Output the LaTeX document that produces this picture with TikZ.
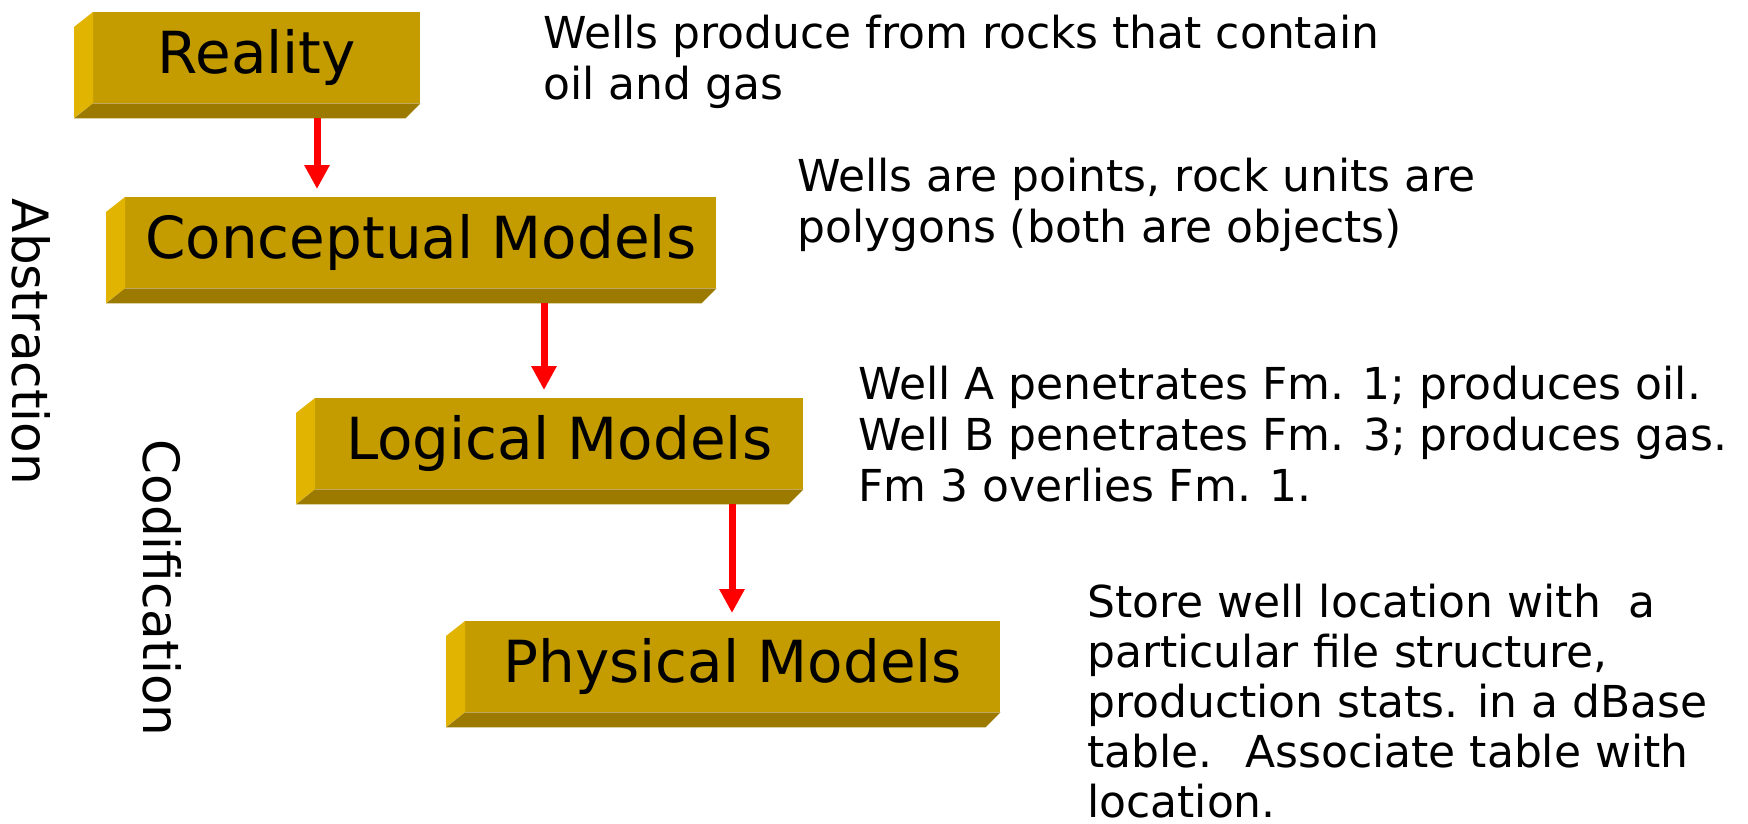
\documentclass[tikz,border=0pt]{standalone}
\usepackage{fontspec}
\setmainfont{DejaVu Sans}
\usepackage{tikz}
\usetikzlibrary{positioning, arrows.meta, calc}
\usepackage{xcolor}
\definecolor{boxface}{RGB}{196,156,0}
\definecolor{boxleft}{RGB}{224,180,0}
\definecolor{boxbottom}{RGB}{156,122,0}
\tikzset{
    layerbox/.style={
        rectangle,
        fill=boxface,
        inner sep=0pt,
        minimum height=91pt,
        font=\fontsize{58}{64}\selectfont
    },
    flowarrow/.style={
        red,
        line width=7pt,
        -{Triangle[width=24pt,length=24pt]}
    },
    note/.style={
        anchor=north west,
        align=left,
        inner sep=0pt,
        font=\fontsize{44}{51}\selectfont
    },
    sidelabel/.style={
        rotate=-90,
        inner sep=0pt,
        font=\fontsize{50}{56}\selectfont
    }
}

\begin{document}
\begin{tikzpicture}[x=1pt, y=-1pt]

      \useasboundingbox (0,0) rectangle (1748,824);

      \foreach \n/\x/\y/\w/\t in {
          real/93/12/327/Reality,
          concept/125/197/591/Conceptual Models,
          logic/315/398/488/Logical Models,
          phys/465/621/535/Physical Models}
        {
          \node[layerbox, anchor=north west, minimum width=\w pt] (\n) at (\x,\y) {\t};
          \fill[boxleft] (\n.north west) -- ++(-19,15) -- ++(0,91) -- (\n.south west) -- cycle;
          \fill[boxbottom] (\n.south west) -- ++(-19,15) -- ($(\n.south east)+(-15,15)$) -- (\n.south east) -- cycle;
        }

      \path ($(real.south west)+(224,15)$) coordinate (r1)
            ($(concept.south west)+(419,15)$) coordinate (c1)
            ($(logic.south west)+(417,15)$) coordinate (l1);

      \draw[flowarrow] (r1) -- ([yshift=8pt]r1 |- concept.north);
      \draw[flowarrow] (c1) -- ([yshift=8pt]c1 |- logic.north);
      \draw[flowarrow] (l1) -- ([yshift=8pt]l1 |- phys.north);

      \node[note] (n1) at (543,15) {Wells produce from rocks that contain\\oil and gas};
      \node[note] (n2) at (797,158) {Wells are points, rock units are\\polygons (both are objects)};
      \node[note] (n3) at (858,366) {Well A penetrates Fm. 1; produces oil.\\Well B penetrates Fm. 3; produces gas.\\Fm 3 overlies Fm. 1.};
      \node[note, font=\fontsize{44}{50}\selectfont] (n4) at (1087,584) {Store well location with~ a\\particular file structure,\\production stats. in a dBase\\table.~ Associate table with\\location.};

      \node[sidelabel] (abs) at (31,342) {Abstraction};
      \node[sidelabel] (cod) at (162,588) {Codification};

    \end{tikzpicture}
\end{document}
